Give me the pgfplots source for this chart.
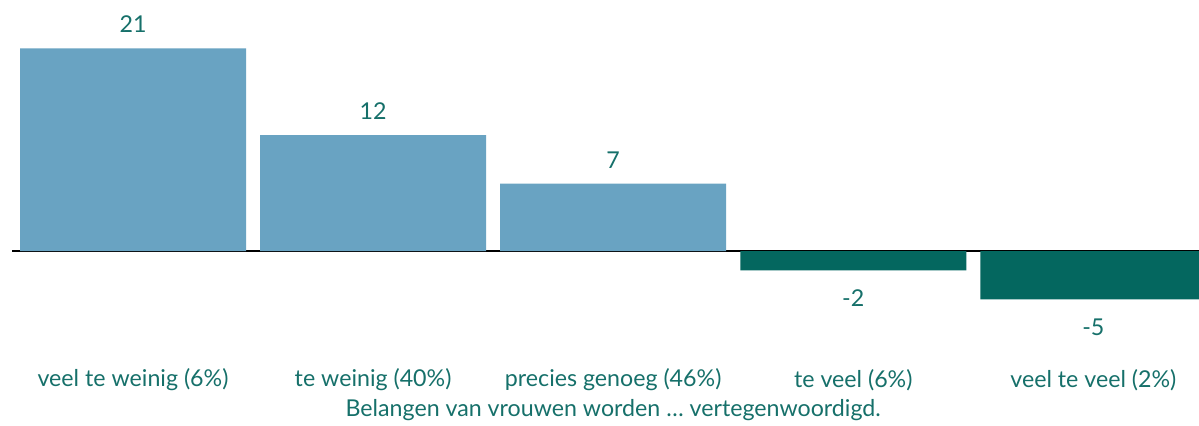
\documentclass[border=0pt]{standalone}
\usepackage{fontspec}
\setmainfont{Lato}
\usepackage{pgfplots}
\pgfplotsset{compat=1.18}
\definecolor{txt}{HTML}{16706A}
\definecolor{posbar}{HTML}{69A3C2}
\definecolor{negbar}{HTML}{04675F}
\begin{document}
\fontsize{11.6}{13}\selectfont
\begin{tikzpicture}
\useasboundingbox (0,0) rectangle (599.5pt,-212.5pt);
\begin{axis}[
  at={(6pt,0pt)}, anchor=north west,
  scale only axis,
  width=593.5pt, height=170pt,
  xmin=-0.504, xmax=4.44,
  ymin=-9.2, ymax=26,
  ybar, bar width=113pt,
  axis line style={draw=none},
  major tick length=0pt,
  ytick=\empty,
  xtick={0,1,2,3,4},
  xticklabels={veel te weinig (6\%), te weinig (40\%), precies genoeg (46\%), te veel (6\%), veel te veel (2\%)},
  xticklabel style={anchor=center, yshift=-20pt, text=txt, font=\fontsize{11.6}{13}\selectfont},
  extra y ticks={0},
  extra y tick labels={},
  extra y tick style={grid=major, major grid style={black, line width=1.2pt}},
  /pgf/number format/assume math mode=true,
  nodes near coords,
  every node near coord/.append style={text=txt, font=\fontsize{11.6}{13}\selectfont},
  clip mode=individual,
]
\addplot[fill=posbar, draw=none, bar shift=0pt, nodes near coords style={inner ysep=7.5pt}] coordinates {(0,21) (1,12) (2,7)};
\addplot[fill=negbar, draw=none, bar shift=0pt, nodes near coords style={inner ysep=9.5pt}] coordinates {(3,-2) (4,-5)};
\node[text=txt, anchor=center, font=\fontsize{11.6}{13}\selectfont] at (axis cs:2,-9.2) [yshift=-35pt] {Belangen van vrouwen worden \dots\ vertegenwoordigd.};
\end{axis}
\end{tikzpicture}
\end{document}
